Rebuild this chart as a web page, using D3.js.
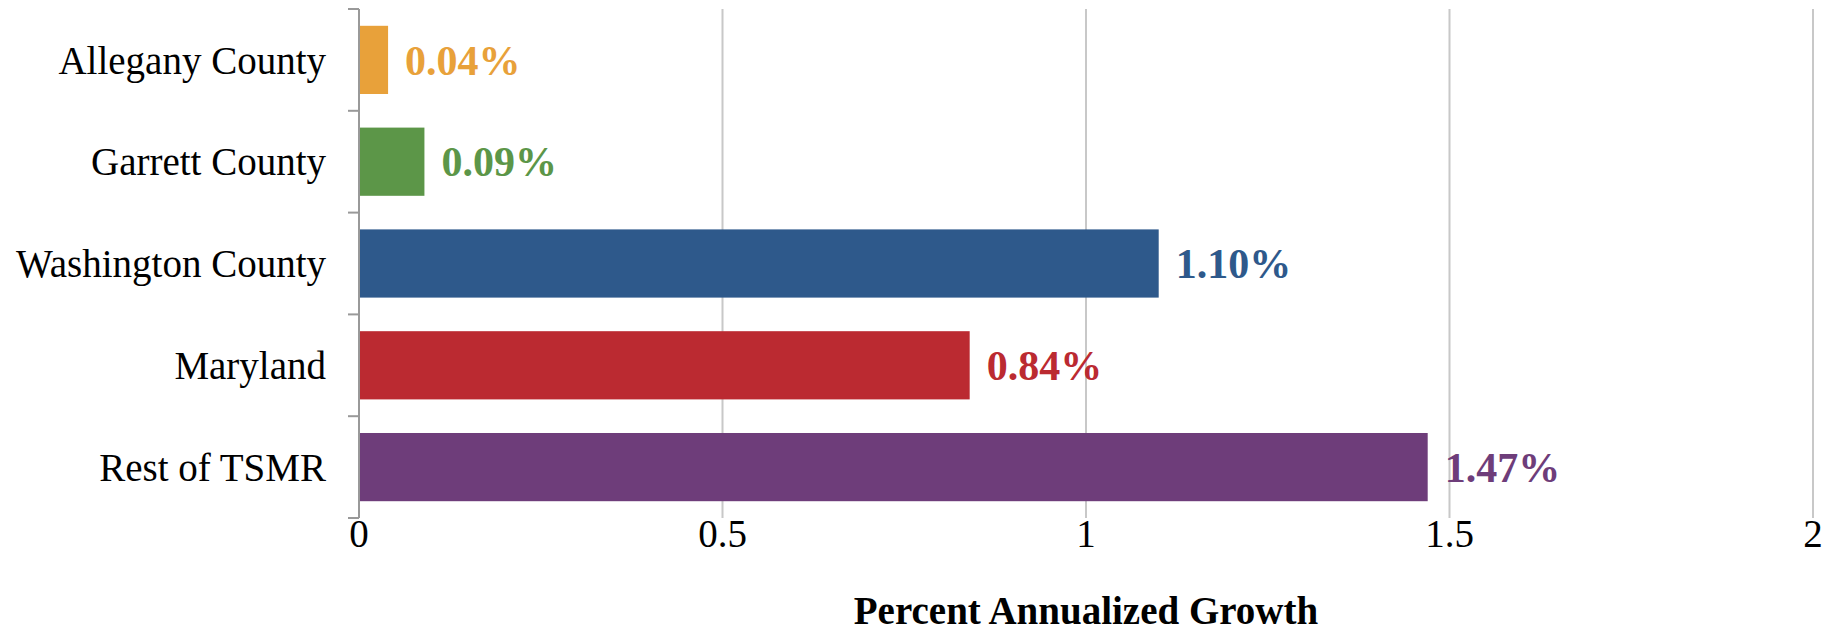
<!DOCTYPE html>
<html><head><meta charset="utf-8">
<script src="https://cdn.jsdelivr.net/npm/d3@7"></script>
<style>body{margin:0;background:#fff;}svg{display:block;}</style>
</head><body>
<svg id="chart" width="1837" height="634"></svg>
<script>
const categories = ["Allegany County","Garrett County","Washington County","Maryland","Rest of TSMR"];
const values = [0.04, 0.09, 1.10, 0.84, 1.47];
const valueLabels = ["0.04%","0.09%","1.10%","0.84%","1.47%"];
const colors = ["#E8A13A","#5C9648","#2E598B","#BB2A31","#6E3D7A"];
const xTicks = [0, 0.5, 1, 1.5, 2];
const xTickLabels = ["0","0.5","1","1.5","2"];
const xTitle = "Percent Annualized Growth";

const svg = d3.select("#chart");
const font = "'Liberation Serif', 'Times New Roman', serif";
const x = d3.scaleLinear().domain([0,2]).range([359,1813]);
const y = d3.scaleBand().domain(categories).range([9,518]).paddingInner(0.33).paddingOuter(0.165);

// gridlines
svg.append("g").selectAll("line").data(xTicks.slice(1)).join("line")
  .attr("x1",d=>x(d)).attr("x2",d=>x(d)).attr("y1",9).attr("y2",518)
  .attr("stroke","#c8c8c8").attr("stroke-width",2);

// bars
svg.append("g").selectAll("rect").data(categories).join("rect")
  .attr("x",x(0)).attr("y",d=>y(d)).attr("height",y.bandwidth())
  .attr("width",(d,i)=>x(values[i])-x(0)).attr("fill",(d,i)=>colors[i]);

// y axis line and ticks
const yAxis = svg.append("g");
yAxis.append("line").attr("x1",x(0)).attr("x2",x(0)).attr("y1",9).attr("y2",518)
  .attr("stroke","#999").attr("stroke-width",2);
const boundaries = categories.map(c=>y(c)-y.step()*y.paddingInner()/2).concat([518]);
boundaries[0]=9;
yAxis.selectAll("line.t").data(boundaries).join("line").attr("class","t")
  .attr("x1",x(0)-11).attr("x2",x(0)).attr("y1",d=>d).attr("y2",d=>d)
  .attr("stroke","#999").attr("stroke-width",2);

// category labels
svg.append("g").selectAll("text").data(categories).join("text")
  .attr("x",326).attr("y",d=>y(d)+y.bandwidth()/2).attr("dy","0.35em")
  .attr("text-anchor","end").attr("font-family",font).attr("font-size",39)
  .attr("fill","#000").text(d=>d);

// value labels
svg.append("g").selectAll("text").data(categories).join("text")
  .attr("x",(d,i)=>x(values[i])+17).attr("y",d=>y(d)+y.bandwidth()/2).attr("dy","0.35em")
  .attr("font-family",font).attr("font-size",42).attr("font-weight","bold")
  .attr("fill",(d,i)=>colors[i]).text((d,i)=>valueLabels[i]);

// x tick labels
svg.append("g").selectAll("text").data(xTicks).join("text")
  .attr("x",d=>x(d)).attr("y",547).attr("text-anchor","middle")
  .attr("font-family",font).attr("font-size",39).attr("fill","#000")
  .text((d,i)=>xTickLabels[i]);

// x title
svg.append("text").attr("x",x(1)).attr("y",624).attr("text-anchor","middle")
  .attr("font-family",font).attr("font-size",39).attr("font-weight","bold")
  .attr("fill","#000").text(xTitle);
</script>
</body></html>
